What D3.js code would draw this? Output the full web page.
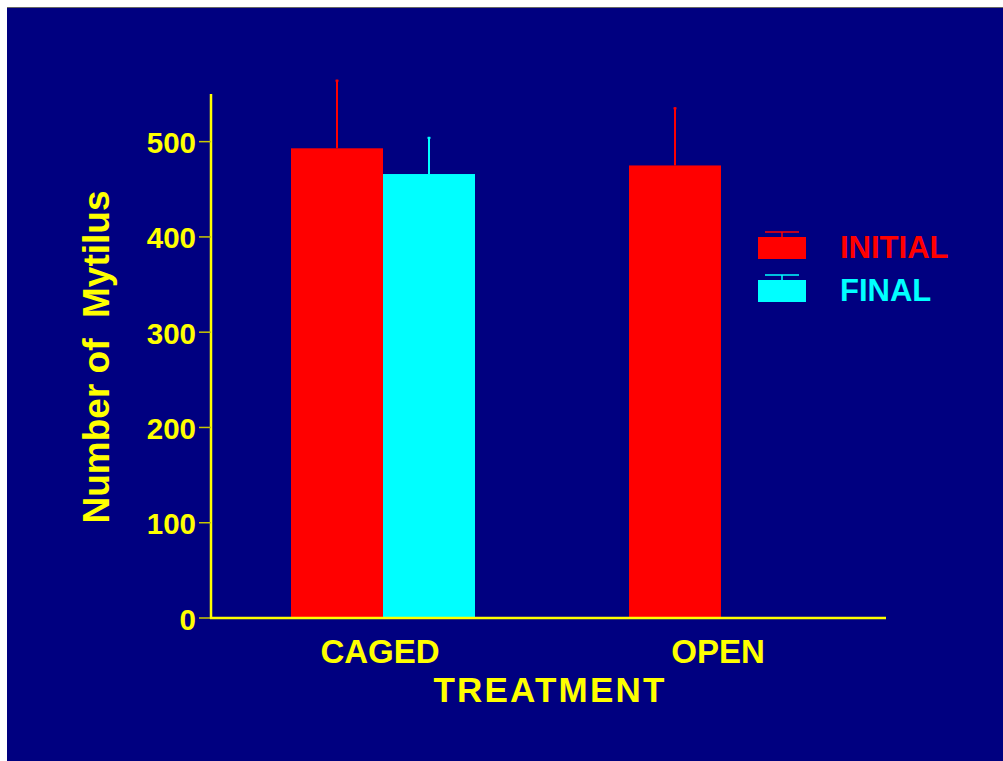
<!DOCTYPE html>
<html>
<head>
<meta charset="utf-8">
<script src="https://cdn.jsdelivr.net/npm/d3@7"></script>
<style>
  html, body { margin: 0; padding: 0; background: #ffffff; }
  svg { display: block; }
  text { font-family: Arial, "Liberation Sans", Helvetica, sans-serif; font-weight: bold; }
</style>
</head>
<body>
<script>
// ---- data ----
const categories = ["CAGED", "OPEN"];
const seriesNames = ["INITIAL", "FINAL"];
const initialValues = [493, 475];
const finalValues = [466, null];
const initialErrors = [72, 61];
const finalErrors = [39, null];
const yTicks = [0, 100, 200, 300, 400, 500];
const seriesColors = ["#ff0000", "#00ffff"];

const W = 1003, H = 761;
const svg = d3.select("body").append("svg").attr("width", W).attr("height", H);

// background panel
svg.append("rect").attr("x", 7).attr("y", 8).attr("width", W - 7).attr("height", H - 8).attr("fill", "#000080");
svg.append("line").attr("x1", 7).attr("x2", W).attr("y1", 7.5).attr("y2", 7.5).attr("stroke", "#666").attr("stroke-width", 1);

const axisX = 211, axisRight = 886, y0 = 618, yTop = 94;
const y = d3.scaleLinear().domain([0, 550]).range([y0, yTop]);
const x0 = d3.scaleBand().domain(categories).range([214, 890]).paddingInner(0.4556).paddingOuter(0.2278);
const x1 = d3.scaleBand().domain(seriesNames).range([0, x0.bandwidth()]);

const rows = categories.map((c, i) => ({
  cat: c,
  vals: [
    { s: seriesNames[0], v: initialValues[i], e: initialErrors[i], color: seriesColors[0] },
    { s: seriesNames[1], v: finalValues[i], e: finalErrors[i], color: seriesColors[1] }
  ]
}));

const yellow = "#ffff00";

// bars
const g = svg.append("g");
rows.forEach(r => {
  r.vals.forEach(d => {
    if (d.v == null) return;
    const bx = x0(r.cat) + x1(d.s);
    const cx = bx + x1.bandwidth() / 2;
    // error bar
    g.append("line").attr("x1", cx).attr("x2", cx).attr("y1", y(d.v)).attr("y2", y(d.v + d.e))
      .attr("stroke", d.color).attr("stroke-width", 2);
    g.append("line").attr("x1", cx - 1.5).attr("x2", cx + 1.5).attr("y1", y(d.v + d.e) + 1).attr("y2", y(d.v + d.e) + 1)
      .attr("stroke", d.color).attr("stroke-width", 2);
    g.append("rect").attr("x", bx).attr("y", y(d.v)).attr("width", x1.bandwidth()).attr("height", y(0) - y(d.v))
      .attr("fill", d.color);
  });
});

// y axis
svg.append("line").attr("x1", axisX).attr("x2", axisX).attr("y1", yTop).attr("y2", y0 + 1)
  .attr("stroke", yellow).attr("stroke-width", 2.5);
yTicks.forEach(t => {
  svg.append("line").attr("x1", axisX - 12).attr("x2", axisX).attr("y1", y(t)).attr("y2", y(t))
    .attr("stroke", "#c8c800").attr("stroke-width", 1.5);
  svg.append("text").attr("x", 196).attr("y", y(t) + 11.5).attr("text-anchor", "end")
    .attr("font-size", 29.5).attr("fill", yellow).text(t);
});

// x axis
svg.append("line").attr("x1", axisX - 1).attr("x2", axisRight).attr("y1", y0).attr("y2", y0)
  .attr("stroke", yellow).attr("stroke-width", 2.5);
categories.forEach(c => {
  svg.append("text").attr("x", x0(c) + x0.bandwidth() / 2 - 3).attr("y", 663).attr("text-anchor", "middle")
    .attr("font-size", 33).attr("fill", yellow).text(c);
});

// axis titles
svg.append("text").attr("x", 550).attr("y", 702).attr("text-anchor", "middle")
  .attr("font-size", 35).attr("letter-spacing", 2.2).attr("fill", yellow).text("TREATMENT");
svg.append("text").attr("transform", "translate(109,357) rotate(-90)").attr("text-anchor", "middle")
  .attr("font-size", 37).attr("fill", yellow).style("white-space", "pre").text("Number of  Mytilus");

// legend
const legY = [237, 280];
seriesNames.forEach((s, i) => {
  const ly = legY[i];
  svg.append("line").attr("x1", 765).attr("x2", 799).attr("y1", ly - 5).attr("y2", ly - 5)
    .attr("stroke", seriesColors[i]).attr("stroke-width", 1.5);
  svg.append("line").attr("x1", 782).attr("x2", 782).attr("y1", ly - 5).attr("y2", ly)
    .attr("stroke", seriesColors[i]).attr("stroke-width", 1.5);
  svg.append("rect").attr("x", 758).attr("y", ly).attr("width", 48).attr("height", 22).attr("fill", seriesColors[i]);
  svg.append("text").attr("x", 840).attr("y", ly + 21).attr("font-size", 31).attr("fill", seriesColors[i]).text(s);
});
</script>
</body>
</html>
